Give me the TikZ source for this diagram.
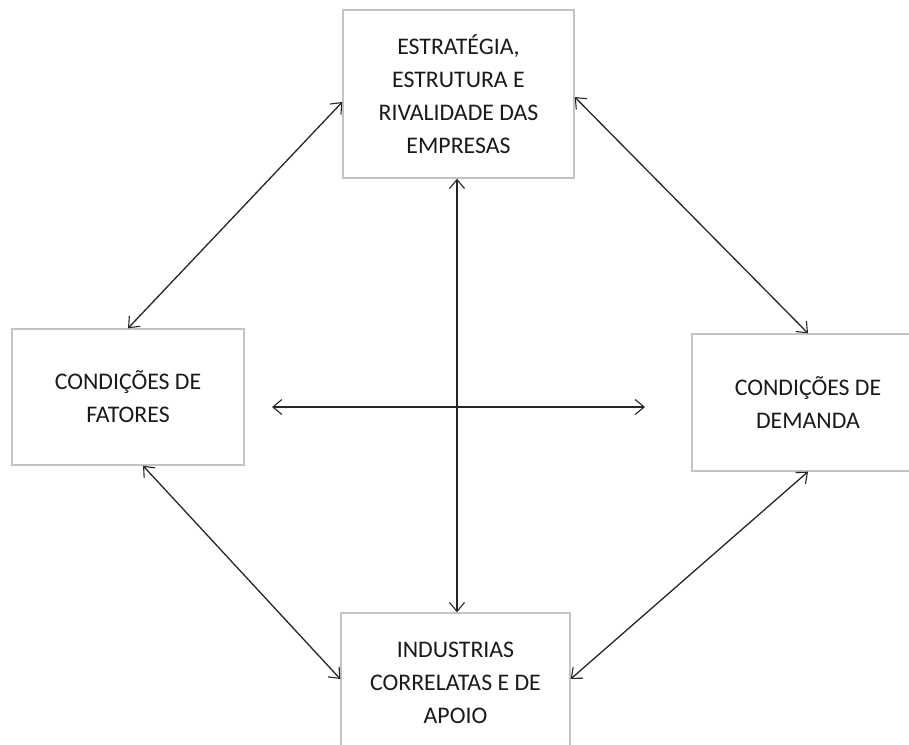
\documentclass[tikz,border=0pt]{standalone}
\usepackage{fontspec}
\setmainfont{Carlito}
\usetikzlibrary{arrows.meta}
\definecolor{boxline}{HTML}{C4C4C4}
\definecolor{arrowcol}{HTML}{262626}
\definecolor{txt}{HTML}{1A1A1A}
\begin{document}
\begin{tikzpicture}[
  boxnode/.style={draw=boxline, line width=1.4pt, fill=white, inner sep=0pt,
    align=center, text=txt, font=\fontsize{23.8}{33}\selectfont},
  link/.style={draw=arrowcol, line width=1.3pt,
    {Straight Barb[length=9pt,width=15pt,line width=1.1pt]}-{Straight Barb[length=9pt,width=15pt,line width=1.1pt]}}
]
\useasboundingbox (0pt,0pt) rectangle (909pt,-744pt);
\fill[white] (0pt,0pt) rectangle (909pt,-744pt);

\node[boxnode, minimum width=231pt, minimum height=168pt] (top) at (458.5pt,-94pt)
  {ESTRATÉGIA,\\ESTRUTURA E\\RIVALIDADE DAS\\EMPRESAS};
\node[boxnode, minimum width=232pt, minimum height=136pt] (left) at (128pt,-397pt)
  {CONDIÇÕES DE\\FATORES};
\node[boxnode, minimum width=232pt, minimum height=137pt] (right) at (808pt,-402.5pt)
  {CONDIÇÕES DE\\DEMANDA};
\node[boxnode, minimum width=229pt, minimum height=140pt] (bottom) at (455.5pt,-683pt)
  {INDUSTRIAS\\CORRELATAS E DE\\APOIO};

\coordinate (hl) at (272pt,-407pt);
\coordinate (hr) at (645pt,-407pt);
\coordinate (vt) at ([xshift=-1.5pt]top.south);
\coordinate (vb) at ([xshift=1.5pt]bottom.north);

\draw[link] (left.north) -- ([yshift=-8pt]top.west);
\draw[link] ([yshift=-3pt]top.east) -- (right.north);
\draw[link] ([xshift=15pt]left.south) -- ([yshift=4pt]bottom.west);
\draw[link] (right.south) -- ([yshift=4pt]bottom.east);
\draw[link] (vt) -- (vb);
\draw[link] (hl) -- (hr);
\end{tikzpicture}
\end{document}
